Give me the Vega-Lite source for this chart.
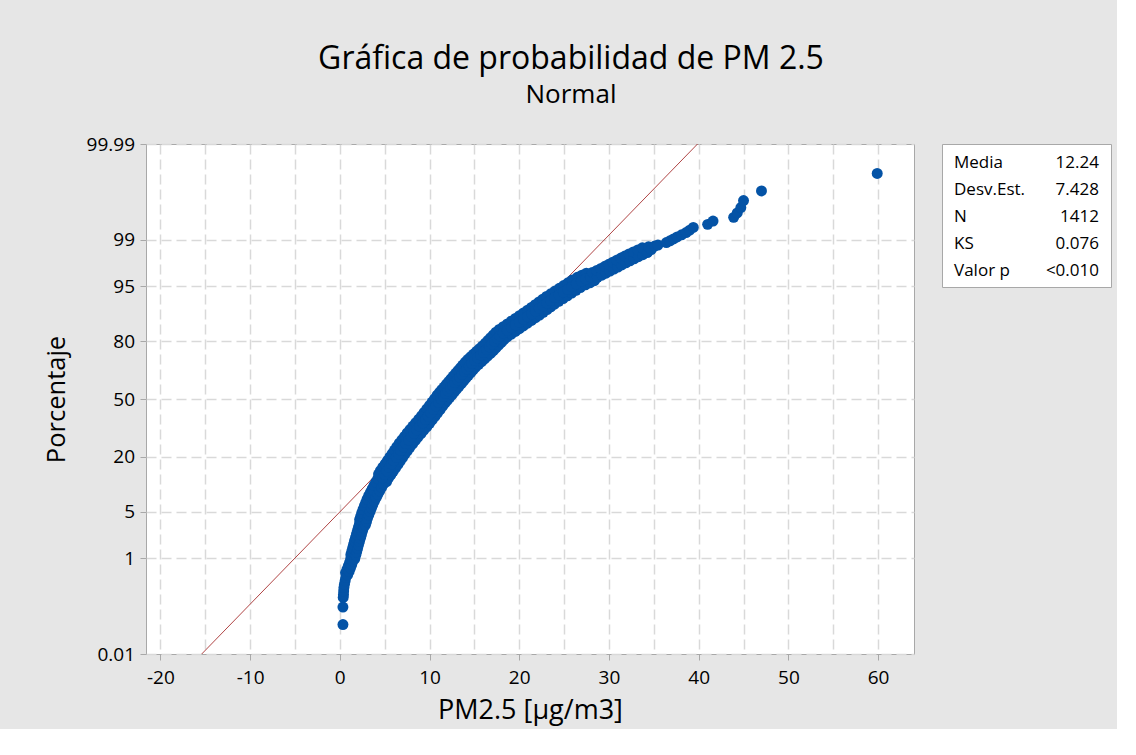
{
  "$schema": "https://vega.github.io/schema/vega-lite/v6.json",
  "background": "#e6e6e6",
  "padding": {"left": 43, "top": 42, "right": 5, "bottom": 5},
  "title": {
    "text": "Gráfica de probabilidad de PM 2.5",
    "subtitle": "Normal",
    "anchor": "middle",
    "frame": "group",
    "dx": 425,
    "font": "Open Sans",
    "fontSize": 32,
    "fontWeight": "normal",
    "color": "black",
    "subtitleFont": "Open Sans",
    "subtitleFontSize": 26,
    "subtitleFontWeight": "normal",
    "subtitleColor": "black",
    "subtitlePadding": 6,
    "offset": 26
  },
  "datasets": {
    "pts": [
      {"x": 0.35, "z": -3.29}, {"x": 0.35, "z": -3.035}, {"x": 0.38, "z": -2.894},
      {"x": 0.41, "z": -2.85}, {"x": 0.43, "z": -2.8}, {"x": 0.46, "z": -2.75}, {"x": 0.52, "z": -2.7},
      {"x": 0.6, "z": -2.65}, {"x": 0.67, "z": -2.6},
      {"x": 0.64, "z": -2.535}, {"x": 0.88, "z": -2.565},
      {"x": 0.8, "z": -2.485}, {"x": 1.04, "z": -2.515},
      {"x": 0.95, "z": -2.435}, {"x": 1.19, "z": -2.465},
      {"x": 1.09, "z": -2.385}, {"x": 1.33, "z": -2.415},
      {"x": 1.21, "z": -2.335}, {"x": 1.45, "z": -2.365},
      {"x": 1.23, "z": -2.27}, {"x": 1.67, "z": -2.33},
      {"x": 1.34, "z": -2.22}, {"x": 1.78, "z": -2.28},
      {"x": 1.44, "z": -2.17}, {"x": 1.88, "z": -2.23},
      {"x": 1.54, "z": -2.12}, {"x": 1.98, "z": -2.18},
      {"x": 1.64, "z": -2.07}, {"x": 2.08, "z": -2.13},
      {"x": 1.75, "z": -2.02}, {"x": 2.19, "z": -2.08},
      {"x": 1.86, "z": -1.97}, {"x": 2.3, "z": -2.03},
      {"x": 1.97, "z": -1.92}, {"x": 2.41, "z": -1.98},
      {"x": 2.08, "z": -1.87}, {"x": 2.52, "z": -1.93},
      {"x": 2.19, "z": -1.82}, {"x": 2.63, "z": -1.88},
      {"x": 2.21, "z": -1.76}, {"x": 2.85, "z": -1.84},
      {"x": 2.33, "z": -1.71}, {"x": 2.97, "z": -1.79},
      {"x": 2.45, "z": -1.66}, {"x": 3.09, "z": -1.74},
      {"x": 2.59, "z": -1.61}, {"x": 3.23, "z": -1.69},
      {"x": 2.74, "z": -1.56}, {"x": 3.38, "z": -1.64},
      {"x": 2.89, "z": -1.51}, {"x": 3.53, "z": -1.59},
      {"x": 3.04, "z": -1.46}, {"x": 3.68, "z": -1.54},
      {"x": 3.22, "z": -1.41}, {"x": 3.86, "z": -1.49},
      {"x": 3.41, "z": -1.36}, {"x": 4.05, "z": -1.44},
      {"x": 3.61, "z": -1.31}, {"x": 4.25, "z": -1.39},
      {"x": 3.81, "z": -1.26}, {"x": 4.45, "z": -1.34},
      {"x": 4.02, "z": -1.21}, {"x": 4.66, "z": -1.29},
      {"x": 4.24, "z": -1.16}, {"x": 4.88, "z": -1.24},
      {"x": 4.32, "z": -1.095}, {"x": 5.22, "z": -1.205},
      {"x": 4.53, "z": -1.045}, {"x": 5.43, "z": -1.155},
      {"x": 4.79, "z": -0.995}, {"x": 5.69, "z": -1.105},
      {"x": 5.06, "z": -0.945}, {"x": 5.96, "z": -1.055},
      {"x": 5.32, "z": -0.895}, {"x": 6.22, "z": -1.005},
      {"x": 5.58, "z": -0.845}, {"x": 6.48, "z": -0.955},
      {"x": 5.84, "z": -0.795}, {"x": 6.74, "z": -0.905},
      {"x": 6.1, "z": -0.745}, {"x": 7.0, "z": -0.855},
      {"x": 6.36, "z": -0.695}, {"x": 7.26, "z": -0.805},
      {"x": 6.63, "z": -0.645}, {"x": 7.53, "z": -0.755},
      {"x": 6.92, "z": -0.595}, {"x": 7.82, "z": -0.705},
      {"x": 7.22, "z": -0.545}, {"x": 8.12, "z": -0.655},
      {"x": 7.51, "z": -0.495}, {"x": 8.41, "z": -0.605},
      {"x": 7.82, "z": -0.445}, {"x": 8.72, "z": -0.555},
      {"x": 8.15, "z": -0.395}, {"x": 9.05, "z": -0.505},
      {"x": 8.47, "z": -0.345}, {"x": 9.37, "z": -0.455},
      {"x": 8.8, "z": -0.295}, {"x": 9.7, "z": -0.405},
      {"x": 9.11, "z": -0.245}, {"x": 10.01, "z": -0.355},
      {"x": 9.4, "z": -0.195}, {"x": 10.3, "z": -0.305},
      {"x": 9.7, "z": -0.145}, {"x": 10.6, "z": -0.255},
      {"x": 9.99, "z": -0.095}, {"x": 10.89, "z": -0.205},
      {"x": 10.28, "z": -0.045}, {"x": 11.18, "z": -0.155},
      {"x": 10.57, "z": 0.005}, {"x": 11.47, "z": -0.105},
      {"x": 10.85, "z": 0.055}, {"x": 11.75, "z": -0.055},
      {"x": 11.11, "z": 0.095}, {"x": 12.01, "z": -0.015},
      {"x": 11.36, "z": 0.135}, {"x": 12.26, "z": 0.025},
      {"x": 11.62, "z": 0.175}, {"x": 12.52, "z": 0.065},
      {"x": 11.87, "z": 0.215}, {"x": 12.77, "z": 0.105},
      {"x": 12.13, "z": 0.255}, {"x": 13.03, "z": 0.145},
      {"x": 12.39, "z": 0.295}, {"x": 13.29, "z": 0.185},
      {"x": 12.65, "z": 0.335}, {"x": 13.55, "z": 0.225},
      {"x": 12.91, "z": 0.375}, {"x": 13.81, "z": 0.265},
      {"x": 13.17, "z": 0.415}, {"x": 14.07, "z": 0.305},
      {"x": 13.44, "z": 0.455}, {"x": 14.34, "z": 0.345},
      {"x": 13.7, "z": 0.495}, {"x": 14.6, "z": 0.385},
      {"x": 13.97, "z": 0.535}, {"x": 14.87, "z": 0.425},
      {"x": 14.25, "z": 0.575}, {"x": 15.15, "z": 0.465},
      {"x": 14.58, "z": 0.615}, {"x": 15.48, "z": 0.505},
      {"x": 14.91, "z": 0.655}, {"x": 15.81, "z": 0.545},
      {"x": 15.24, "z": 0.695}, {"x": 16.14, "z": 0.585},
      {"x": 15.57, "z": 0.735}, {"x": 16.47, "z": 0.625},
      {"x": 15.9, "z": 0.775}, {"x": 16.8, "z": 0.665},
      {"x": 16.22, "z": 0.815}, {"x": 17.12, "z": 0.705},
      {"x": 16.51, "z": 0.855}, {"x": 17.41, "z": 0.745},
      {"x": 16.81, "z": 0.895}, {"x": 17.71, "z": 0.785},
      {"x": 17.11, "z": 0.935}, {"x": 18.01, "z": 0.825},
      {"x": 17.4, "z": 0.975}, {"x": 18.3, "z": 0.865},
      {"x": 17.77, "z": 1.015}, {"x": 18.67, "z": 0.905},
      {"x": 18.22, "z": 1.055}, {"x": 19.12, "z": 0.945},
      {"x": 18.67, "z": 1.095}, {"x": 19.57, "z": 0.985},
      {"x": 19.12, "z": 1.135}, {"x": 20.02, "z": 1.025},
      {"x": 19.57, "z": 1.175}, {"x": 20.47, "z": 1.065},
      {"x": 20.02, "z": 1.215}, {"x": 20.92, "z": 1.105},
      {"x": 20.47, "z": 1.255}, {"x": 21.37, "z": 1.145},
      {"x": 20.92, "z": 1.295}, {"x": 21.82, "z": 1.185},
      {"x": 21.36, "z": 1.335}, {"x": 22.26, "z": 1.225},
      {"x": 21.78, "z": 1.375}, {"x": 22.68, "z": 1.265},
      {"x": 22.2, "z": 1.415}, {"x": 23.1, "z": 1.305},
      {"x": 22.62, "z": 1.455}, {"x": 23.52, "z": 1.345},
      {"x": 23.04, "z": 1.495}, {"x": 23.94, "z": 1.385},
      {"x": 23.51, "z": 1.535}, {"x": 24.41, "z": 1.425},
      {"x": 23.99, "z": 1.575}, {"x": 24.89, "z": 1.465},
      {"x": 24.47, "z": 1.615}, {"x": 25.37, "z": 1.505},
      {"x": 24.95, "z": 1.655}, {"x": 25.85, "z": 1.545},
      {"x": 25.43, "z": 1.695}, {"x": 26.33, "z": 1.585},
      {"x": 25.91, "z": 1.735}, {"x": 26.81, "z": 1.625},
      {"x": 26.48, "z": 1.775}, {"x": 27.38, "z": 1.665},
      {"x": 26.98, "z": 1.805}, {"x": 27.88, "z": 1.695},
      {"x": 27.48, "z": 1.835}, {"x": 28.38, "z": 1.725},
      {"x": 4.77, "z": -1.15}, {"x": 4.98, "z": -1.1}, {"x": 5.24, "z": -1.05}, {"x": 5.51, "z": -1.0},
      {"x": 5.77, "z": -0.95}, {"x": 6.03, "z": -0.9}, {"x": 6.29, "z": -0.85}, {"x": 6.55, "z": -0.8},
      {"x": 6.81, "z": -0.75}, {"x": 7.08, "z": -0.7}, {"x": 7.37, "z": -0.65}, {"x": 7.67, "z": -0.6},
      {"x": 7.96, "z": -0.55}, {"x": 8.27, "z": -0.5}, {"x": 8.6, "z": -0.45}, {"x": 8.92, "z": -0.4},
      {"x": 9.25, "z": -0.35}, {"x": 9.56, "z": -0.3}, {"x": 9.85, "z": -0.25}, {"x": 10.15, "z": -0.2},
      {"x": 10.44, "z": -0.15}, {"x": 10.73, "z": -0.1}, {"x": 11.02, "z": -0.05}, {"x": 11.3, "z": 0.0},
      {"x": 11.56, "z": 0.04}, {"x": 11.81, "z": 0.08}, {"x": 12.07, "z": 0.12}, {"x": 12.32, "z": 0.16},
      {"x": 12.58, "z": 0.2}, {"x": 12.84, "z": 0.24}, {"x": 13.1, "z": 0.28}, {"x": 13.36, "z": 0.32},
      {"x": 13.62, "z": 0.36}, {"x": 13.89, "z": 0.4}, {"x": 14.15, "z": 0.44}, {"x": 14.42, "z": 0.48},
      {"x": 14.7, "z": 0.52}, {"x": 15.03, "z": 0.56}, {"x": 15.36, "z": 0.6}, {"x": 15.69, "z": 0.64},
      {"x": 16.02, "z": 0.68}, {"x": 16.35, "z": 0.72}, {"x": 16.67, "z": 0.76}, {"x": 16.96, "z": 0.8},
      {"x": 17.26, "z": 0.84}, {"x": 17.56, "z": 0.88}, {"x": 17.85, "z": 0.92}, {"x": 18.22, "z": 0.96},
      {"x": 18.67, "z": 1.0}, {"x": 19.12, "z": 1.04}, {"x": 19.57, "z": 1.08}, {"x": 20.02, "z": 1.12},
      {"x": 20.47, "z": 1.16}, {"x": 20.92, "z": 1.2}, {"x": 21.37, "z": 1.24}, {"x": 21.81, "z": 1.28},
      {"x": 22.23, "z": 1.32}, {"x": 22.65, "z": 1.36}, {"x": 23.07, "z": 1.4}, {"x": 23.49, "z": 1.44},
      {"x": 23.96, "z": 1.48}, {"x": 24.44, "z": 1.52}, {"x": 24.92, "z": 1.56}, {"x": 25.4, "z": 1.6},
      {"x": 25.88, "z": 1.64}, {"x": 26.36, "z": 1.68}, {"x": 26.93, "z": 1.72}, {"x": 27.43, "z": 1.75},
      {"x": 27.93, "z": 1.78},
      {"x": 28.15, "z": 1.845}, {"x": 28.71, "z": 1.775},
      {"x": 28.65, "z": 1.875}, {"x": 29.21, "z": 1.805},
      {"x": 29.11, "z": 1.905}, {"x": 29.67, "z": 1.835},
      {"x": 29.55, "z": 1.935}, {"x": 30.11, "z": 1.865},
      {"x": 29.99, "z": 1.965}, {"x": 30.55, "z": 1.895},
      {"x": 30.43, "z": 1.995}, {"x": 30.99, "z": 1.925},
      {"x": 30.87, "z": 2.025}, {"x": 31.43, "z": 1.955},
      {"x": 31.33, "z": 2.055}, {"x": 31.89, "z": 1.985},
      {"x": 31.78, "z": 2.085}, {"x": 32.34, "z": 2.015},
      {"x": 32.24, "z": 2.115}, {"x": 32.8, "z": 2.045},
      {"x": 32.72, "z": 2.145}, {"x": 33.28, "z": 2.075},
      {"x": 33.22, "z": 2.175}, {"x": 33.78, "z": 2.105},
      {"x": 33.72, "z": 2.205}, {"x": 34.28, "z": 2.135},
      {"x": 34.41, "z": 2.22}, {"x": 34.71, "z": 2.18},
      {"x": 35.1, "z": 2.23}, {"x": 35.46, "z": 2.245},
      {"x": 36.4, "z": 2.282}, {"x": 36.8, "z": 2.307}, {"x": 37.2, "z": 2.334}, {"x": 37.6, "z": 2.363},
      {"x": 38.1, "z": 2.394}, {"x": 38.6, "z": 2.427}, {"x": 39.0, "z": 2.463}, {"x": 39.4, "z": 2.503},
      {"x": 41.0, "z": 2.547}, {"x": 41.6, "z": 2.595}, {"x": 43.9, "z": 2.649}, {"x": 44.3, "z": 2.713},
      {"x": 44.7, "z": 2.792}, {"x": 45.0, "z": 2.894}, {"x": 47.0, "z": 3.035}, {"x": 59.9, "z": 3.29}
    ],
    "fit": [
      {"x": -15.39, "z": -3.719},
      {"x": 39.87, "z": 3.719}
    ],
    "stats": [
      {"stat": "Media", "value": "12.24"},
      {"stat": "Desv.Est.", "value": "7.428"},
      {"stat": "N", "value": "1412"},
      {"stat": "KS", "value": "0.076"},
      {"stat": "Valor p", "value": "<0.010"}
    ]
  },
  "spacing": 26,
  "hconcat": [
    {
      "width": 768,
      "height": 510,
      "view": {"fill": "white", "stroke": "#a8a8a8", "strokeWidth": 1},
      "encoding": {
        "x": {
          "field": "x",
          "type": "quantitative",
          "title": "PM2.5 [µg/m3]",
          "scale": {"domain": [-21.6, 64], "nice": false, "zero": false},
          "axis": {
            "values": [-20, -15, -10, -5, 0, 5, 10, 15, 20, 25, 30, 35, 40, 45, 50, 55, 60],
            "labelExpr": "datum.value % 10 === 0 ? replace(datum.label, '−', '-') : ''",
            "tickOpacity": {"condition": {"test": "datum.value % 10 !== 0", "value": 0}, "value": 1},
            "labelPadding": 8.5,
            "titleFontSize": 27,
            "titlePadding": 10
          }
        },
        "y": {
          "field": "z",
          "type": "quantitative",
          "title": "Porcentaje",
          "scale": {"domain": [-3.719, 3.719], "nice": false, "zero": false},
          "axis": {
            "values": [-3.719, -2.326, -1.645, -0.8416, 0, 0.8416, 1.645, 2.326, 3.719],
            "labelExpr": "datum.value < -3 ? '0.01' : datum.value < -2 ? '1' : datum.value < -1 ? '5' : datum.value < -0.5 ? '20' : datum.value < 0.5 ? '50' : datum.value < 1 ? '80' : datum.value < 2 ? '95' : datum.value < 3 ? '99' : '99.99'",
            "labelPadding": 5.5,
            "titleFontSize": 25.5,
            "titlePadding": 17
          }
        }
      },
      "layer": [
        {
          "data": {"name": "fit"},
          "mark": {"type": "line", "color": "#b04545", "strokeWidth": 1}
        },
        {
          "data": {"name": "pts"},
          "mark": {"type": "circle", "size": 120, "color": "#0453a6", "opacity": 1}
        }
      ]
    },
    {
      "width": 169,
      "height": 143,
      "data": {"name": "stats"},
      "view": {"fill": "white", "stroke": "#a8a8a8", "strokeWidth": 1},
      "transform": [{"fold": ["stat", "value"], "as": ["col", "txt"]}],
      "encoding": {
        "y": {
          "field": "stat",
          "type": "ordinal",
          "sort": ["Media", "Desv.Est.", "N", "KS", "Valor p"],
          "scale": {"type": "point", "padding": 0.658},
          "axis": null
        },
        "x": {
          "field": "col",
          "type": "nominal",
          "scale": {"type": "point", "domain": ["stat", "value"], "padding": 0.083},
          "axis": null
        },
        "text": {"field": "txt"}
      },
      "layer": [
        {
          "transform": [{"filter": "datum.col === 'stat'"}],
          "mark": {"type": "text", "align": "left", "baseline": "middle", "dy": 1.5, "font": "Open Sans", "fontSize": 17, "color": "black"}
        },
        {
          "transform": [{"filter": "datum.col === 'value'"}],
          "mark": {"type": "text", "align": "right", "baseline": "middle", "dy": 1.5, "font": "Open Sans", "fontSize": 17, "color": "black"}
        }
      ]
    }
  ],
  "config": {
    "axis": {
      "domain": false,
      "tickColor": "#a8a8a8",
      "tickSize": 6,
      "labelFont": "Open Sans",
      "labelFontSize": 19,
      "labelColor": "black",
      "titleFont": "Open Sans",
      "titleFontWeight": "normal",
      "titleColor": "black",
      "gridColor": "#d9d9d9",
      "gridDash": [10, 5],
      "gridWidth": 1.5
    }
  }
}
